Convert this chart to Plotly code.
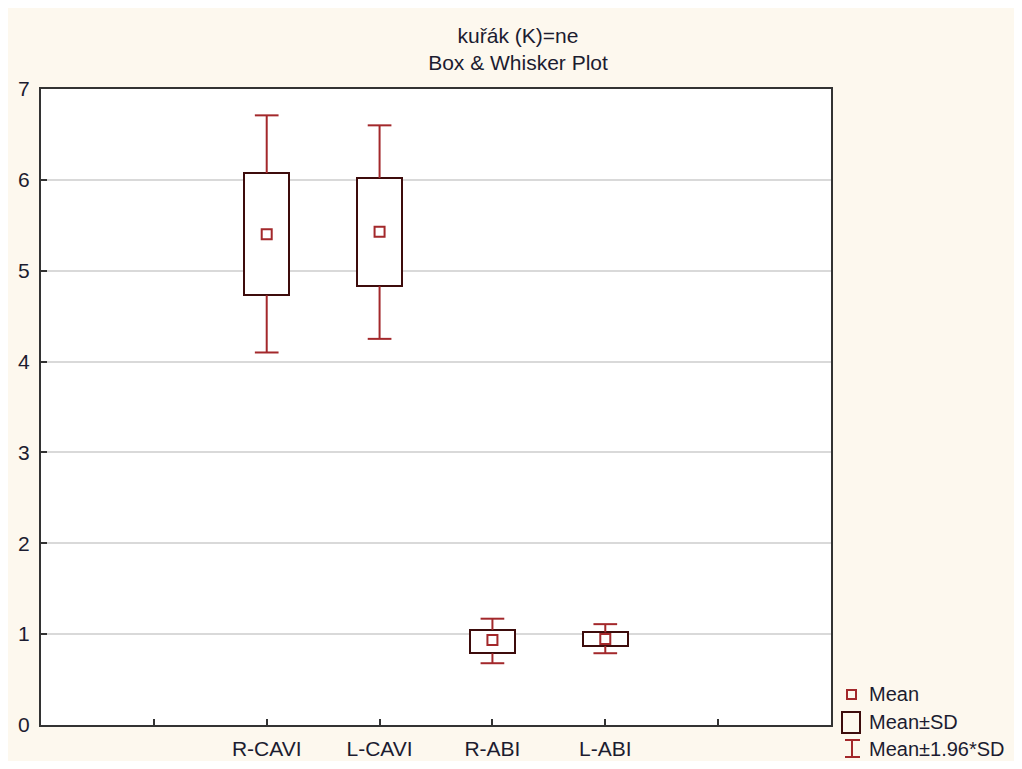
import numpy as np
import plotly.graph_objects as go

# ---- data ----
categories = ["R-CAVI", "L-CAVI", "R-ABI", "L-ABI"]
mean_vals = [5.40, 5.43, 0.935, 0.946]
sd_low = [4.73, 4.83, 0.79, 0.87]
sd_high = [6.075, 6.02, 1.046, 1.02]
w_low = [4.10, 4.25, 0.68, 0.79]
w_high = [6.71, 6.60, 1.17, 1.11]
y_ticks = [0, 1, 2, 3, 4, 5, 6, 7]

# ---- styling ----
BG = "#fdf8ee"
BOX_C = "#3d0c0c"
RED = "#a3282b"
TXT = "#1c1c30"
FONT = "Liberation Sans, Arial, sans-serif"
FS = 21

OFF = 8  # page offset of the figure (body margin)
W, H = 1006, 753
L, T = 41 - OFF, 89 - OFF
R = W - (831 - OFF)
B = H - (725 - OFF)
PW, PH = W - L - R, H - T - B

xpos = np.arange(len(categories)) + 2
box_w = 0.40
cap_w = 0.21

fig = go.Figure()

# boxes: mean ± SD
fig.add_trace(go.Bar(
    x=xpos, y=np.array(sd_high) - np.array(sd_low), base=sd_low, width=box_w,
    marker=dict(color="white", line=dict(color=BOX_C, width=2)),
    showlegend=False, hoverinfo="skip"))

# whiskers: mean ± 1.96*SD
wx, wy = [], []
for x, lo, hi, wl, wh in zip(xpos, sd_low, sd_high, w_low, w_high):
    wx += [x, x, None, x, x, None,
           x - cap_w / 2, x + cap_w / 2, None, x - cap_w / 2, x + cap_w / 2, None]
    wy += [hi, wh, None, lo, wl, None, wh, wh, None, wl, wl, None]
fig.add_trace(go.Scatter(x=wx, y=wy, mode="lines",
                         line=dict(color=RED, width=2),
                         showlegend=False, hoverinfo="skip"))

# means
fig.add_trace(go.Scatter(x=xpos, y=mean_vals, mode="markers",
                         marker=dict(symbol="square-open", size=10, color=RED,
                                     line=dict(width=2, color=RED)),
                         showlegend=False))

# page-pixel -> paper conversions
def px(xp):
    return (xp - OFF - L) / PW

def py(yp):
    return (H - B - (yp - OFF)) / PH

shapes = []
# legend icons
shapes.append(dict(type="rect", xref="paper", yref="paper", x0=px(847), x1=px(856),
                   y0=py(699), y1=py(690), line=dict(color=RED, width=2)))
shapes.append(dict(type="rect", xref="paper", yref="paper", x0=px(842), x1=px(860),
                   y0=py(733), y1=py(712), line=dict(color=BOX_C, width=2)))
shapes.append(dict(type="line", xref="paper", yref="paper", x0=px(852), x1=px(852),
                   y0=py(757), y1=py(740), line=dict(color=RED, width=2)))
shapes.append(dict(type="line", xref="paper", yref="paper", x0=px(845), x1=px(860),
                   y0=py(740), y1=py(740), line=dict(color=RED, width=2)))
shapes.append(dict(type="line", xref="paper", yref="paper", x0=px(845), x1=px(860),
                   y0=py(757), y1=py(757), line=dict(color=RED, width=2)))

annotations = []
for label, yy in [("Mean", 694), ("Mean±SD", 722), ("Mean±1.96*SD", 749)]:
    annotations.append(dict(text=label, xref="paper", yref="paper", x=px(867), y=py(yy),
                            xanchor="left", yanchor="middle", showarrow=False,
                            font=dict(family=FONT, size=20, color=TXT)))

fig.update_layout(
    width=W, height=H,
    margin=dict(l=L, r=R, t=T, b=B, pad=0, autoexpand=False),
    paper_bgcolor=BG, plot_bgcolor="white",
    title=dict(text="kuřák (K)=ne<br>Box & Whisker Plot",
               x=(518 - OFF) / W, xref="container", xanchor="center",
               y=1 - 35 / H, yref="container", yanchor="top",
               font=dict(family=FONT, size=FS, color=TXT)),
    shapes=shapes, annotations=annotations,
    showlegend=False,
    bargap=0,
)

fig.update_xaxes(range=[0, len(categories) + 3], automargin=False,
                 tickmode="array", tickvals=list(range(1, len(categories) + 3)),
                 ticktext=[""] + categories + [""],
                 ticks="inside", ticklen=6, tickwidth=2, tickcolor="#333333",
                 showline=True, linecolor="#333333", linewidth=2, mirror=True,
                 showgrid=False, zeroline=False,
                 ticklabelstandoff=4,
                 tickfont=dict(family=FONT, size=FS, color=TXT))
fig.update_yaxes(range=[y_ticks[0], y_ticks[-1]], automargin=False,
                 tickmode="array", tickvals=y_ticks,
                 ticks="inside", ticklen=6, tickwidth=2, tickcolor="#333333",
                 showline=True, linecolor="#333333", linewidth=2, mirror=True,
                 showgrid=True, gridcolor="#d9d9d9", gridwidth=1.5, zeroline=False,
                 ticklabelstandoff=5,
                 tickfont=dict(family=FONT, size=FS, color=TXT))

fig.write_html("out.html")
